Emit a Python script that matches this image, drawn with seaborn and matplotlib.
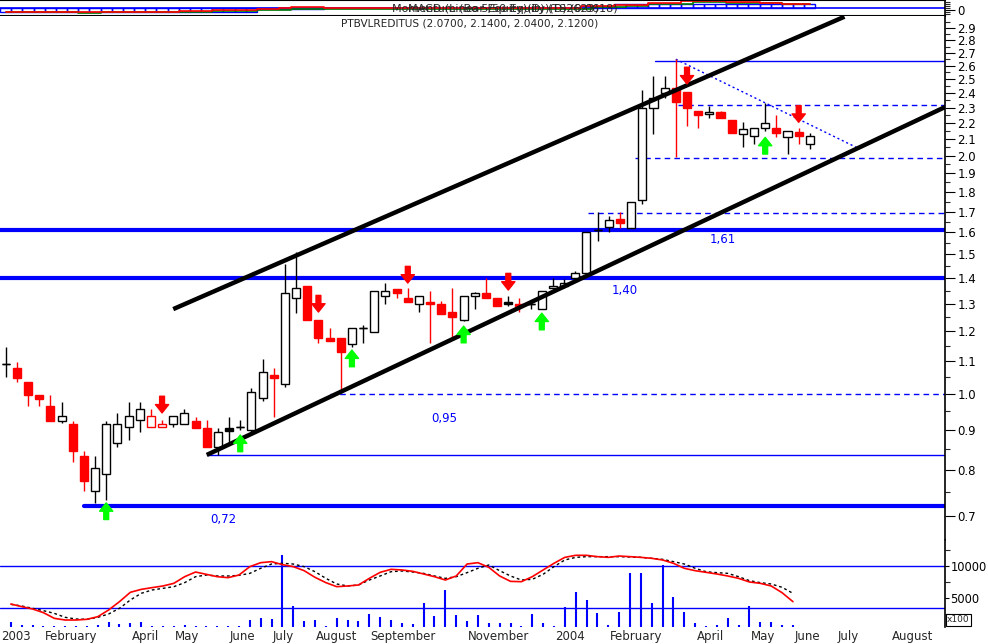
import numpy as np
import pandas as pd
import matplotlib
matplotlib.use('Agg')
import matplotlib.pyplot as plt
import seaborn as sns
from matplotlib.patches import Rectangle
from matplotlib.ticker import FixedLocator, FuncFormatter, NullLocator
from matplotlib.transforms import blended_transform_factory

# weekly bars, first one is the week ending 17 Jan 2003
first_week = '2003-01-17'

opens = [1.09, 1.077, 1.035, 0.995, 0.964, 0.924, 0.915, 0.833, 0.753, 0.79,
         0.866, 0.907, 0.925, 0.907, 0.907, 0.915, 0.915, 0.923, 0.904, 0.855,
         0.904, 0.907, 0.90, 0.987, 1.055, 1.028, 1.32, 1.37, 1.24, 1.175,
         1.175, 1.155, 1.21, 1.195, 1.33, 1.355, 1.32, 1.30, 1.305, 1.30,
         1.27, 1.24, 1.33, 1.34, 1.32, 1.305, 1.30, 1.30, 1.28, 1.36,
         1.37, 1.40, 1.42, 1.61, 1.625, 1.665, 1.62, 1.76, 2.30, 2.40,
         2.44, 2.41, 2.28, 2.26, 2.27, 2.22, 2.13, 2.12, 2.17, 2.17,
         2.11, 2.145, 2.07]
highs = [1.146, 1.096, 1.035, 0.995, 0.996, 0.975, 0.924, 0.845, 0.833, 0.923,
         0.945, 0.975, 0.975, 0.957, 0.925, 0.937, 0.955, 0.933, 0.925, 0.904,
         0.933, 0.925, 1.016, 1.105, 1.077, 1.46, 1.51, 1.37, 1.24, 1.21,
         1.175, 1.21, 1.22, 1.35, 1.38, 1.355, 1.36, 1.33, 1.35, 1.31,
         1.36, 1.33, 1.345, 1.40, 1.32, 1.33, 1.32, 1.31, 1.35, 1.40,
         1.395, 1.43, 1.60, 1.70, 1.68, 1.70, 1.75, 2.42, 2.52, 2.52,
         2.65, 2.41, 2.28, 2.31, 2.28, 2.22, 2.21, 2.17, 2.33, 2.25,
         2.15, 2.17, 2.14]
lows = [1.049, 1.034, 0.964, 0.965, 0.924, 0.917, 0.82, 0.753, 0.727, 0.733,
        0.856, 0.873, 0.895, 0.907, 0.907, 0.907, 0.915, 0.905, 0.856, 0.836,
        0.86, 0.90, 0.895, 0.978, 0.935, 1.02, 1.265, 1.24, 1.16, 1.165,
        1.005, 1.145, 1.16, 1.195, 1.30, 1.32, 1.305, 1.27, 1.16, 1.26,
        1.18, 1.235, 1.28, 1.32, 1.29, 1.29, 1.27, 1.28, 1.28, 1.355,
        1.36, 1.39, 1.42, 1.56, 1.60, 1.62, 1.62, 1.74, 2.13, 2.37,
        1.99, 2.18, 2.17, 2.23, 2.23, 2.14, 2.05, 2.07, 2.15, 2.11,
        2.01, 2.07, 2.04]
closes = [1.09, 1.047, 0.995, 0.985, 0.924, 0.937, 0.845, 0.775, 0.805, 0.915,
          0.915, 0.937, 0.955, 0.937, 0.915, 0.937, 0.945, 0.905, 0.856, 0.895,
          0.897, 0.907, 1.005, 1.066, 1.047, 1.34, 1.36, 1.24, 1.175, 1.165,
          1.13, 1.21, 1.21, 1.35, 1.35, 1.34, 1.305, 1.33, 1.30, 1.26,
          1.25, 1.33, 1.34, 1.32, 1.29, 1.30, 1.29, 1.30, 1.35, 1.37,
          1.38, 1.42, 1.60, 1.61, 1.66, 1.645, 1.75, 2.30, 2.37, 2.44,
          2.34, 2.30, 2.25, 2.27, 2.23, 2.14, 2.16, 2.17, 2.20, 2.14,
          2.15, 2.12, 2.12]

volume = [1300, 780, 780, 700, 620, 620, 620, 620, 780, 1300,
          940, 1150, 1300, 620, 620, 620, 780, 620, 620, 620,
          620, 620, 1560, 1820, 1720, 11700, 3750, 1460, 1560, 620,
          1820, 1560, 1460, 2500, 1980, 1560, 1040, 940, 4270, 2190,
          6250, 2340, 1460, 2340, 1150, 1040, 1150, 620, 2500, 1150,
          620, 3650, 5990, 4690, 2710, 780, 2810, 8850, 8850, 4270,
          10160, 5210, 2810, 1150, 620, 780, 1820, 780, 3750, 1300,
          1300, 780, 780]
osc_line = [4060, 3650, 3280, 2710, 1820, 1560, 1560, 1670, 2080, 3130,
            4430, 5890, 6350, 6620, 6880, 7290, 8330, 9060, 8700, 8330,
            8180, 8590, 9900, 10520, 10680, 10210, 9900, 9270, 8230, 7400,
            6770, 6880, 7030, 8070, 9010, 9480, 9380, 9170, 8750, 8330,
            7810, 8440, 10310, 10520, 9790, 8440, 7600, 7550, 8330, 9380,
            10420, 11350, 11670, 11670, 11460, 11350, 11560, 11460, 11350, 11200,
            10940, 10420, 9640, 9270, 9010, 8750, 8440, 8070, 7500, 7290,
            6880, 5830, 4430]
osc_signal = [4010, 3750, 3390, 3020, 2600, 1980, 1720, 1670, 1980, 2500,
              3390, 4690, 5730, 6250, 6510, 6770, 7400, 8330, 8590, 8440,
              8440, 8540, 8850, 9640, 10310, 10420, 10310, 9900, 9110, 8070,
              7190, 6880, 7030, 7810, 8440, 9110, 9220, 9060, 8850, 8440,
              8070, 8330, 8960, 9640, 10160, 9270, 8440, 7810, 7920, 8700,
              9900, 10940, 11350, 11460, 11460, 11460, 11460, 11410, 11350, 11200,
              11040, 10680, 10310, 9640, 9110, 8960, 8850, 8330, 7710, 7400,
              7190, 6670, 5730]
vol_levels = [10000, 3440]

# the squashed indicator strip at the very top
strip_hist = [-4, -4, -4, -4, -4, -4, -4, -4, -4, -4, -4, -4, -4, -4, -4, -4,
              -4, -4, -4, -4, -4, -4, -4, -1, -1, -1, -1, -1, -1,
              0.6, 0.6, 0.6, 0.6, 0.6, 0.6, 0.6, 0.6, 0.6, 0.6, 0.6, 0.6,
              0.6, 0.6, 0.6, 0.6, 0.6, 0.6, 0.6, 0.6, 0.6, 0.6, 0.6,
              2, 2, 2, 4.3, 4.3, 4.3, 4.3, 4.3, 4.3, 4.3, 4.3, 4.3,
              4.3, 4.3, 4.3, 4.3, 4.3, 4.3, 4.3, 4.3, 4.3]
strip_red = [-4, -4, -4, -4, -4, -4, -4, -4, -4, -4, -4, -4, -4,
             -3.4, -3.4, -3.4, -2.7, -2.7, -2.7, -2, -2, -2, -2,
             -1, -1, 0, 1, 1, 1,
             0.5, 0.5, 0.5, 0.5, 0.5, 0.5, 0.5, 0.5, 0.5, 0.5, 0.5, 0.5,
             0.5, 0.5, 0.5, 0.5, 0.5, 0.5, 0.5, 0.5, 0.5, 0.5, 0.5,
             2.3, 2.3, 2.3, 3.6, 3.6, 3.6, 5.6, 5.6, 5.6,
             7.3, 7.3, 7.3, 7.3, 6.3, 6.3, 6.3, 5.6, 5.6, 4.3, 4.3, 4.3]
strip_green = [-4, -4, -4, -4, -4, -4, -4, -5, -5, -4, -4, -4, -4, -4, -4, -4,
               -3.4, -3.4, -3.4, -2.7, -2.7, -2.7, -2.7, -2, -2, -1.7, -1, -1, -1,
               -0.7, -0.7, -0.7, -0.7, -0.7, -0.7, -0.7, -0.7, -0.7, -0.7, -0.7, -0.7,
               -0.7, -0.7, -0.7, -0.7, -0.7, -0.7, -0.7, -0.7, -0.7, -0.7, -0.7, -0.7,
               1.3, 1.3, 1.3, 2.3, 2.3, 4.3, 4.3, 4.3, 4.3,
               6.3, 6.3, 6.3, 5.6, 5.6, 5.6, 5, 5, 4.3, 4.3, 4.3]

# signals (bar number, arrow tip price)
sell_weeks = [14, 28, 36, 45, 61, 71]
sell_tips = [0.945, 1.268, 1.38, 1.352, 2.466, 2.205]
buy_weeks = [9, 21, 31, 41, 48, 68]
buy_tips = [0.727, 0.886, 1.135, 1.217, 1.264, 2.11]

# trend channel (bar number, price at both ends)
upper_weeks = [15, 75.1]
upper_prices = [1.279, 3.0]
lower_weeks = [18, 84.1]
lower_prices = [0.836, 2.305]
fan_weeks = [60, 76.3]
fan_prices = [2.65, 2.045]

# support / resistance levels: price and first bar
thick_levels = [1.61, 1.40, 0.72]
thick_start = [-1, -1, 7]
thin_levels = [0.836, 2.64]
thin_start = [18, 58.1]
dash_levels = [1.0, 2.32, 1.986, 1.693]
dash_start = [29, 60.2, 56.3, 52.1]
level_labels = ['1,61', '1,40', '0,95', '0,72']
label_weeks = [63.0, 54.3, 38.1, 18.3]
label_prices = [1.565, 1.352, 0.931, 0.692]

W, H = 988, 644
X_LEFT, X_RIGHT = -0.51, 84.1
NARROW = ['Liberation Sans Narrow', 'DejaVu Sans']


def box(x0, y0, x1, y1):
    return [x0 / W, 1 - y1 / H, (x1 - x0) / W, (y1 - y0) / H]


def main():
    sns.set_style('white')
    plt.rcParams['font.family'] = ['DejaVu Sans']

    fig = plt.figure(figsize=(W / 100, H / 100), dpi=100)
    ax_top = fig.add_axes(box(0, 0, 945, 16))
    ax = fig.add_axes(box(0, 16, 945, 540))
    ax_vol = fig.add_axes(box(0, 540, 945, 627))

    o, h, l, c = (np.array(v) for v in (opens, highs, lows, closes))
    idx = np.arange(len(c))
    prev = np.r_[c[0], c[:-1]]
    edge = np.where(c >= prev, 'black', 'red')
    face = np.where(c >= o, 'white', edge)

    # candles
    ax.vlines(idx, l, h, colors=edge, lw=1, zorder=3)
    ax.bar(idx, np.abs(c - o), bottom=np.minimum(o, c), width=0.72,
           color=face, edgecolor=edge, linewidth=1, zorder=4)
    doji = np.abs(c - o) < 1e-6
    ax.hlines(c[doji], idx[doji] - 0.36, idx[doji] + 0.36, colors=edge[doji], lw=1, zorder=4)

    # levels
    for p, s in zip(thick_levels, thick_start):
        ax.plot([s, X_RIGHT + 1], [p, p], color='#0000ff', lw=3, zorder=2)
    for p, s in zip(thin_levels, thin_start):
        ax.plot([s, X_RIGHT + 1], [p, p], color='#0000ff', lw=1, zorder=2)
    for p, s in zip(dash_levels, dash_start):
        ax.plot([s, X_RIGHT + 1], [p, p], color='#0000ff', lw=1, ls=(0, (4, 3)), zorder=2)
    ax.plot(fan_weeks, fan_prices, color='#0000ff', lw=1, ls=(0, (1.5, 2)), zorder=2)
    for t, x, p in zip(level_labels, label_weeks, label_prices):
        ax.text(x, p, t, color='#0000ff', fontsize=8.5, ha='left', va='center')

    # channel
    ax.plot(upper_weeks, upper_prices, color='black', lw=3.2, zorder=5, solid_capstyle='butt')
    ax.plot(lower_weeks, lower_prices, color='black', lw=3.2, zorder=5, solid_capstyle='butt')

    # signal arrows
    arrow = 'simple,head_length=0.6,head_width=0.95,tail_width=0.35'
    for w, p in zip(sell_weeks, sell_tips):
        ax.annotate('', xy=(w, p), xytext=(0, 12), textcoords='offset points',
                    arrowprops=dict(arrowstyle=arrow, color='#ff0000', shrinkA=0, shrinkB=0), zorder=6)
    for w, p in zip(buy_weeks, buy_tips):
        ax.annotate('', xy=(w, p), xytext=(0, -12), textcoords='offset points',
                    arrowprops=dict(arrowstyle=arrow, color='#00ff00', shrinkA=0, shrinkB=0), zorder=6)

    ax.set_yscale('log')
    ax.set_ylim(0.6524, 3.006)
    ax.set_xlim(X_LEFT, X_RIGHT)
    ax.yaxis.set_major_locator(FixedLocator(np.round(np.arange(0.7, 2.95, 0.1), 2)))
    ax.yaxis.set_minor_locator(FixedLocator(np.round(np.arange(0.65, 3.0, 0.1), 3)))
    ax.yaxis.set_major_formatter(FuncFormatter(lambda v, pos: f'{v:.1f}'))
    ax.yaxis.set_minor_formatter(FuncFormatter(lambda v, pos: ''))
    ax.xaxis.set_major_locator(NullLocator())
    ax.xaxis.set_minor_locator(NullLocator())

    # volume panel with the oscillator on top
    ax_vol.vlines(idx, 0, volume, colors='#0000ff', lw=1.5)
    for v in vol_levels:
        ax_vol.axhline(v, color='#0000ff', lw=1)
    sns.lineplot(x=idx, y=osc_signal, ax=ax_vol, color='black', lw=1, linestyle=(0, (2, 2)))
    sns.lineplot(x=idx, y=osc_line, ax=ax_vol, color='#ff0000', lw=1.2)
    ax_vol.set_ylim(469, 14063)
    ax_vol.set_xlim(X_LEFT, X_RIGHT)
    ax_vol.yaxis.set_major_locator(FixedLocator([5000, 10000]))
    ax_vol.yaxis.set_minor_locator(FixedLocator([2500, 7500, 12500]))
    ax_vol.yaxis.set_major_formatter(FuncFormatter(lambda v, pos: f'{v:.0f}'))

    # month ticks sit on the first bar of each month
    weeks = pd.date_range(pd.Timestamp(first_week) - pd.Timedelta(weeks=1), periods=88, freq='W-FRI')
    week_no = np.arange(len(weeks)) - 1
    new_month = np.r_[True, weeks.month[1:] != weeks.month[:-1]]
    ax_vol.set_xticks(week_no[new_month])
    ax_vol.set_xticks(week_no, minor=True)
    ax_vol.set_xticklabels([])
    trans = blended_transform_factory(ax_vol.transData, ax_vol.transAxes)
    last_name = ''
    for d, n in zip(weeks[new_month], week_no[new_month]):
        if n > X_RIGHT:
            break
        name = str(d.year) if d.month == 1 else d.strftime('%B')
        if len(last_name) >= 8:
            last_name = ''
            continue
        ax_vol.text(n + 0.12, -0.105, name, transform=trans, fontsize=8.5,
                    ha='left', va='center', clip_on=False)
        last_name = name
    # labels run under the price scale and get cut there
    fig.add_artist(Rectangle((946 / W, 0), 42 / W, 15 / H, transform=fig.transFigure,
                             facecolor='white', edgecolor='none', zorder=10))

    # top strip
    ax_top.bar(idx, strip_hist, width=1, fill=False, edgecolor='#0000ff', lw=1)
    ax_top.axhline(0, color='#0000ff', lw=1.2)
    ax_top.step(idx, strip_green, where='mid', color='#008000', lw=1.2)
    ax_top.step(idx, strip_red, where='mid', color='#ff0000', lw=1.2)
    ax_top.set_ylim(-7.7, 8.3)
    ax_top.set_xlim(X_LEFT, X_RIGHT)
    ax_top.yaxis.set_major_locator(FixedLocator([-1.5]))
    ax_top.yaxis.set_minor_locator(FixedLocator([-6, -4, 0, 2, 4, 6]))
    ax_top.yaxis.set_major_formatter(FuncFormatter(lambda v, pos: '0'))
    ax_top.xaxis.set_major_locator(NullLocator())

    for a in (ax, ax_vol, ax_top):
        a.yaxis.tick_right()
        a.tick_params(axis='y', which='major', direction='out', length=7, width=0.8,
                      labelsize=8.5, pad=2, colors='black')
        a.tick_params(axis='y', which='minor', direction='out', length=3.5, width=0.8)
        a.set_facecolor('white')
        for s in ('left', 'top', 'bottom'):
            a.spines[s].set_visible(False)
        a.spines['right'].set_color('black')
        a.spines['right'].set_linewidth(1.2)
    ax_vol.tick_params(axis='y', which='major', length=3, pad=1, labelsize=8.3)
    ax_vol.tick_params(axis='x', which='major', direction='out', length=12.5, width=0.8, colors='black')
    ax_vol.tick_params(axis='x', which='minor', direction='out', length=3.6, width=0.8, colors='black')
    ax_top.spines['top'].set_visible(True)
    ax_top.spines['bottom'].set_visible(True)
    ax_top.spines['top'].set_color('black')
    ax_top.spines['bottom'].set_color('black')
    ax_top.spines['bottom'].set_linewidth(1.5)

    fig.text(503 / W, 1 - 9 / H, 'MACD (Linear Equity)(D) (TS2623)', fontsize=8,
             ha='center', va='center', family=NARROW)
    fig.text(505 / W, 1 - 9 / H, 'Momentum (Bo 5/50 Equity)(D) (0.0618)', fontsize=8,
             ha='center', va='center', family=NARROW)
    fig.text(470 / W, 1 - 24 / H,
             f'PTBVLREDITUS ({o[-1]:.4f}, {h[-1]:.4f}, {l[-1]:.4f}, {c[-1]:.4f})',
             fontsize=7.6, ha='center', va='center', family=NARROW)
    fig.text(947 / W, 1 - 620 / H, 'x100', fontsize=6.5, ha='left', va='center',
             bbox=dict(boxstyle='square,pad=0.15', fc='white', ec='black', lw=0.8))

    fig.savefig('out.png', dpi=100)


if __name__ == '__main__':
    main()
